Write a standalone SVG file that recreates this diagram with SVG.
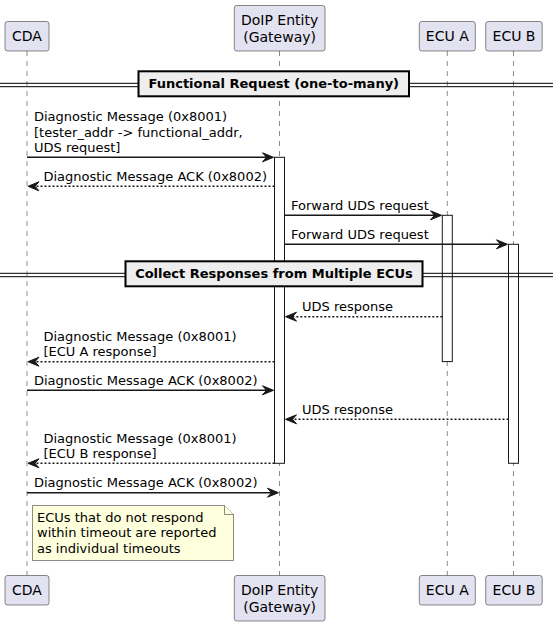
<svg xmlns="http://www.w3.org/2000/svg" width="553" height="626" viewBox="0 0 553 626">
<style>
.part{fill:#E2E2F0;stroke:#181818;stroke-width:0.5}
.ptxt{font-family:"DejaVu Sans",sans-serif;font-size:14px;fill:#000;text-anchor:middle}
.life{stroke:#181818;stroke-width:0.5;stroke-dasharray:5,5;fill:none}
.act{fill:#FFFFFF;stroke:#181818;stroke-width:1}
.msg{stroke:#181818;stroke-width:1.5;fill:none}
.ret{stroke:#181818;stroke-width:1.5;fill:none;stroke-dasharray:2,2}
.head{fill:#181818;stroke:#181818;stroke-width:1}
.mtxt{font-family:"DejaVu Sans",sans-serif;font-size:13px;fill:#000}
.dline{stroke:#000;stroke-width:1}
.dbox{fill:#EEEEEE;stroke:#000;stroke-width:2}
.dtxt{font-family:"DejaVu Sans",sans-serif;font-size:13px;font-weight:bold;fill:#000;text-anchor:middle}
.note{fill:#FEFFDD;stroke:#181818;stroke-width:0.5}
</style>
<defs>
<polygon id="hr" class="head" points="-11,-4.5 0,0 -11,4.5 -7,0"/>
<polygon id="hl" class="head" points="11,-4.5 0,0 11,4.5 7,0"/>
</defs>
<g id="lifelines">
<line class="life" x1="27" y1="51" x2="27" y2="575.5"/>
<line class="life" x1="279.5" y1="51" x2="279.5" y2="575.5"/>
<line class="life" x1="447.3" y1="51" x2="447.3" y2="575.5"/>
<line class="life" x1="513.5" y1="51" x2="513.5" y2="575.5"/>
</g>
<g id="activations">
<rect id="act-doip" class="act" x="274.5" y="157.3" width="10" height="306"/>
<rect id="act-ecua" class="act" x="442.3" y="215.3" width="10" height="146.3"/>
<rect id="act-ecub" class="act" x="508.5" y="244.3" width="10" height="219"/>
</g>
<g id="divider-functional">
<line class="dline" x1="0" y1="83.3" x2="553" y2="83.3"/>
<line class="dline" x1="0" y1="86.7" x2="553" y2="86.7"/>
<rect class="dbox" x="138.5" y="71.3" width="270.5" height="25"/>
<text class="dtxt" x="273.75" y="88.3">Functional Request (one-to-many)</text>
</g>
<g id="divider-collect">
<line class="dline" x1="0" y1="273.3" x2="553" y2="273.3"/>
<line class="dline" x1="0" y1="276.7" x2="553" y2="276.7"/>
<rect class="dbox" x="125.5" y="261.3" width="297" height="25"/>
<text class="dtxt" x="274" y="278.3">Collect Responses from Multiple ECUs</text>
</g>
<g id="connectors">
<line class="msg" x1="27" y1="157.3" x2="270" y2="157.3"/>
<use href="#hr" x="273.5" y="157.3"/>
<text class="mtxt" x="34" y="121.4">Diagnostic Message (0x8001)</text>
<text class="mtxt" x="34" y="136.5">[tester_addr -&gt; functional_addr,</text>
<text class="mtxt" x="34" y="151.6">UDS request]</text>

<line class="ret" x1="274.5" y1="186.3" x2="31" y2="186.3"/>
<use href="#hl" x="28" y="186.3"/>
<text class="mtxt" x="43.5" y="180.7">Diagnostic Message ACK (0x8002)</text>

<line class="msg" x1="284.5" y1="215.3" x2="438" y2="215.3"/>
<use href="#hr" x="441.5" y="215.3"/>
<text class="mtxt" x="291" y="209.7">Forward UDS request</text>

<line class="msg" x1="284.5" y1="244.3" x2="504" y2="244.3"/>
<use href="#hr" x="507.5" y="244.3"/>
<text class="mtxt" x="291" y="238.7">Forward UDS request</text>

<line class="ret" x1="442.3" y1="316.7" x2="289" y2="316.7"/>
<use href="#hl" x="285.5" y="316.7"/>
<text class="mtxt" x="302" y="311.1">UDS response</text>

<line class="ret" x1="274.5" y1="361.7" x2="31" y2="361.7"/>
<use href="#hl" x="28" y="361.7"/>
<text class="mtxt" x="43.5" y="340.9">Diagnostic Message (0x8001)</text>
<text class="mtxt" x="43.5" y="356">[ECU A response]</text>

<line class="msg" x1="27" y1="390.3" x2="270" y2="390.3"/>
<use href="#hr" x="273.5" y="390.3"/>
<text class="mtxt" x="34" y="384.7">Diagnostic Message ACK (0x8002)</text>

<line class="ret" x1="508.5" y1="419.3" x2="289" y2="419.3"/>
<use href="#hl" x="285.5" y="419.3"/>
<text class="mtxt" x="302" y="413.7">UDS response</text>

<line class="ret" x1="274.5" y1="463.3" x2="31" y2="463.3"/>
<use href="#hl" x="28" y="463.3"/>
<text class="mtxt" x="43.5" y="442.5">Diagnostic Message (0x8001)</text>
<text class="mtxt" x="43.5" y="457.6">[ECU B response]</text>

<line class="msg" x1="27" y1="492.7" x2="275" y2="492.7"/>
<use href="#hr" x="278.5" y="492.7"/>
<text class="mtxt" x="34" y="487.1">Diagnostic Message ACK (0x8002)</text>
</g>
<g id="note">
<path class="note" d="M32.5,505.5 L224.5,505.5 L233.5,514.5 L233.5,560.5 L32.5,560.5 Z"/>
<path class="note" d="M224.5,505.5 L224.5,514.5 L233.5,514.5"/>
<text class="mtxt" x="37" y="522.3">ECUs that do not respond</text>
<text class="mtxt" x="37" y="537.4">within timeout are reported</text>
<text class="mtxt" x="37" y="552.5">as individual timeouts</text>
</g>
<g id="p-cda">
<rect class="part" x="5" y="21.5" width="44" height="29.5" rx="2.5"/>
<text class="ptxt" x="27" y="41">CDA</text>
<rect class="part" x="5" y="575.5" width="44" height="29.5" rx="2.5"/>
<text class="ptxt" x="27" y="595.3">CDA</text>
</g>
<g id="p-doip">
<rect class="part" x="234.3" y="5.5" width="90.7" height="45.5" rx="2.5"/>
<text class="ptxt" x="279.6" y="25.3">DoIP Entity</text>
<text class="ptxt" x="279.6" y="41.6">(Gateway)</text>
<rect class="part" x="234.3" y="575.5" width="90.7" height="45.5" rx="2.5"/>
<text class="ptxt" x="279.6" y="595.3">DoIP Entity</text>
<text class="ptxt" x="279.6" y="611.6">(Gateway)</text>
</g>
<g id="p-ecua">
<rect class="part" x="419.3" y="21.5" width="56" height="29.5" rx="2.5"/>
<text class="ptxt" x="447.3" y="41">ECU A</text>
<rect class="part" x="419.3" y="575.5" width="56" height="29.5" rx="2.5"/>
<text class="ptxt" x="447.3" y="595.3">ECU A</text>
</g>
<g id="p-ecub">
<rect class="part" x="485.7" y="21.5" width="56.5" height="29.5" rx="2.5"/>
<text class="ptxt" x="514" y="41">ECU B</text>
<rect class="part" x="485.7" y="575.5" width="56.5" height="29.5" rx="2.5"/>
<text class="ptxt" x="514" y="595.3">ECU B</text>
</g>
</svg>
